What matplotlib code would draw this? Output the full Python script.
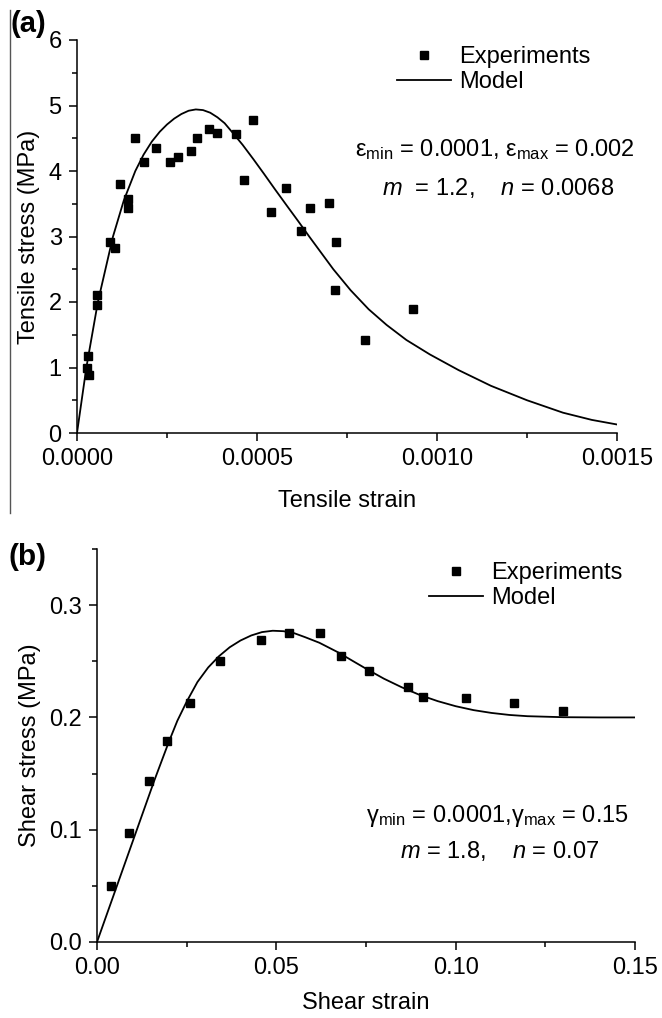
import matplotlib
matplotlib.use("Agg")
import matplotlib.pyplot as plt
from matplotlib.lines import Line2D
from matplotlib.ticker import MultipleLocator, FormatStrFormatter

plt.rcParams['font.family'] = ['Liberation Sans', 'DejaVu Sans']
plt.rcParams['mathtext.fontset'] = 'custom'
plt.rcParams['mathtext.rm'] = 'Liberation Sans'
plt.rcParams['mathtext.it'] = 'Liberation Sans:italic'
plt.rcParams['mathtext.bf'] = 'Liberation Sans:bold'

# (a) tensile test
tens_strain = [0.0000295, 0.0000283, 0.0000342, 0.0000554, 0.0000554, 0.0000908, 0.000106,
               0.00012, 0.000142, 0.000142, 0.000162, 0.000187, 0.00022, 0.000257, 0.00028,
               0.000317, 0.000333, 0.000368, 0.000389, 0.000442, 0.000465, 0.000489, 0.000539,
               0.000581, 0.000621, 0.000648, 0.000699, 0.000719, 0.000716, 0.000801, 0.000932]
tens_stress = [1.18, 0.99, 0.89, 2.10, 1.96, 2.91, 2.82,
               3.80, 3.57, 3.44, 4.51, 4.13, 4.35, 4.13, 4.22,
               4.30, 4.50, 4.64, 4.58, 4.57, 3.87, 4.78, 3.37,
               3.74, 3.09, 3.43, 3.51, 2.91, 2.19, 1.42, 1.90]
tens_model_x = [0, 0.000026, 0.000058, 0.0001, 0.00013, 0.000162, 0.000185, 0.000208, 0.00023,
                0.00025, 0.00027, 0.00029, 0.00031, 0.00033, 0.00035, 0.00037, 0.00039, 0.00041,
                0.00043, 0.00046, 0.00049, 0.000519, 0.00055, 0.000583, 0.000615, 0.000645,
                0.000712, 0.00076, 0.00081, 0.00086, 0.000915, 0.00098, 0.00106, 0.00115,
                0.00125, 0.00135, 0.00143, 0.0015]
tens_model_y = [0, 1.0, 2.0, 3.0, 3.55, 4.0, 4.25, 4.45, 4.6,
                4.71, 4.8, 4.87, 4.92, 4.94, 4.93, 4.89, 4.82, 4.73,
                4.6, 4.4, 4.18, 3.96, 3.72, 3.47, 3.23, 3.0,
                2.5, 2.18, 1.89, 1.65, 1.42, 1.2, 0.96, 0.72,
                0.5, 0.31, 0.2, 0.13]

# (b) shear test
shear_strain = [0.0038, 0.0088, 0.0146, 0.0196, 0.0259, 0.0343, 0.0458, 0.0535, 0.0621,
                0.0679, 0.0758, 0.0867, 0.0910, 0.1029, 0.1164, 0.130]
shear_stress = [0.050, 0.097, 0.143, 0.179, 0.213, 0.250, 0.269, 0.275, 0.275,
                0.255, 0.241, 0.227, 0.218, 0.217, 0.213, 0.206]
shear_model_x = [0, 0.01, 0.016, 0.02, 0.0224, 0.025, 0.028, 0.031, 0.034, 0.037, 0.04, 0.043,
                 0.046, 0.049, 0.052, 0.055, 0.058, 0.062, 0.0672, 0.072, 0.0755, 0.08, 0.085,
                 0.09, 0.095, 0.1, 0.105, 0.11, 0.115, 0.12, 0.13, 0.14, 0.15]
shear_model_y = [0, 0.09, 0.144, 0.178, 0.197, 0.214, 0.2315, 0.2445, 0.2545, 0.2625, 0.2685, 0.273,
                 0.276, 0.2772, 0.2768, 0.275, 0.2715, 0.2665, 0.258, 0.249, 0.2425, 0.2345, 0.2268,
                 0.22, 0.2145, 0.21, 0.2065, 0.204, 0.2022, 0.2011, 0.2002, 0.2, 0.2]

W, H = 662, 1018
fig = plt.figure(figsize=(W / 100, H / 100), dpi=100)


def box(x0, y0, x1, y1):
    # pixel box (top-left origin) -> figure fraction rect
    return [x0 / W, 1 - y1 / H, (x1 - x0) / W, (y1 - y0) / H]


def style(ax):
    for s in ['top', 'right']:
        ax.spines[s].set_visible(False)
    for s in ['left', 'bottom']:
        ax.spines[s].set_linewidth(1.1)
    ax.tick_params(which='major', direction='out', length=6, width=1.1, labelsize=17, pad=5)
    ax.tick_params(which='minor', direction='out', length=3.5, width=1.1)


ax1 = fig.add_axes(box(77, 40, 617, 433))
ax1.plot(tens_strain, tens_stress, 's', color='black', markersize=6, label='Experiments')
ax1.plot(tens_model_x, tens_model_y, '-', color='black', lw=1.3, label='Model')
ax1.set_xlim(0, 0.0015)
ax1.set_ylim(0, 6)
ax1.xaxis.set_major_locator(MultipleLocator(0.0005))
ax1.xaxis.set_minor_locator(MultipleLocator(0.00025))
ax1.xaxis.set_major_formatter(FormatStrFormatter('%.4f'))
ax1.yaxis.set_major_locator(MultipleLocator(1))
ax1.yaxis.set_minor_locator(MultipleLocator(0.5))
style(ax1)
ax1.set_xlabel('Tensile strain', fontsize=17, labelpad=14)
ax1.set_ylabel('Tensile stress (MPa)', fontsize=17, labelpad=6)
ax1.legend(loc='upper left', bbox_to_anchor=(397 / W, 1 - 46 / H), bbox_transform=fig.transFigure,
           frameon=False, fontsize=17, handlelength=2.3, handletextpad=0.35, labelspacing=0.12,
           borderpad=0, borderaxespad=0)
fig.text(495 / W, 1 - 150 / H,
         r'$\mathrm{\varepsilon}_{\mathrm{min}}$ = 0.0001, $\mathrm{\varepsilon}_{\mathrm{max}}$ = 0.002',
         fontsize=17, ha='center', va='center')
fig.text(498 / W, 1 - 188 / H, r'$m$  = 1.2,    $n$ = 0.0068',
         fontsize=17, ha='center', va='center')
fig.text(11 / W, 1 - 24 / H, '(a)', fontsize=21, fontweight='bold', ha='left', va='center')

ax2 = fig.add_axes(box(97, 549, 635, 942))
ax2.plot(shear_strain, shear_stress, 's', color='black', markersize=6, label='Experiments')
ax2.plot(shear_model_x, shear_model_y, '-', color='black', lw=1.3, label='Model')
ax2.set_xlim(0, 0.15)
ax2.set_ylim(0, 0.35)
ax2.xaxis.set_major_locator(MultipleLocator(0.05))
ax2.xaxis.set_minor_locator(MultipleLocator(0.025))
ax2.xaxis.set_major_formatter(FormatStrFormatter('%.2f'))
ax2.yaxis.set_major_locator(MultipleLocator(0.1))
ax2.yaxis.set_minor_locator(MultipleLocator(0.05))
ax2.yaxis.set_major_formatter(FormatStrFormatter('%.1f'))
style(ax2)
ax2.set_xlabel('Shear strain', fontsize=17, labelpad=9)
ax2.set_ylabel('Shear stress (MPa)', fontsize=17, labelpad=6)
ax2.legend(loc='upper left', bbox_to_anchor=(429 / W, 1 - 562 / H), bbox_transform=fig.transFigure,
           frameon=False, fontsize=17, handlelength=2.3, handletextpad=0.35, labelspacing=0.12,
           borderpad=0, borderaxespad=0)
fig.text(497 / W, 1 - 816 / H,
         r'$\mathrm{\gamma}_{\mathrm{min}}$ = 0.0001,$\mathrm{\gamma}_{\mathrm{max}}$ = 0.15',
         fontsize=17, ha='center', va='center')
fig.text(500 / W, 1 - 851 / H, r'$m$ = 1.8,    $n$ = 0.07',
         fontsize=17, ha='center', va='center')
fig.text(8 / W, 1 - 557 / H, '(b)', fontsize=21.5, fontweight='bold', ha='left', va='center')

# thin rule along the left edge of panel (a)
fig.add_artist(Line2D([10 / W, 10 / W], [1 - 10 / H, 1 - 513 / H], color='#555555', lw=1,
                      transform=fig.transFigure))

fig.savefig('out.png', dpi=100)
